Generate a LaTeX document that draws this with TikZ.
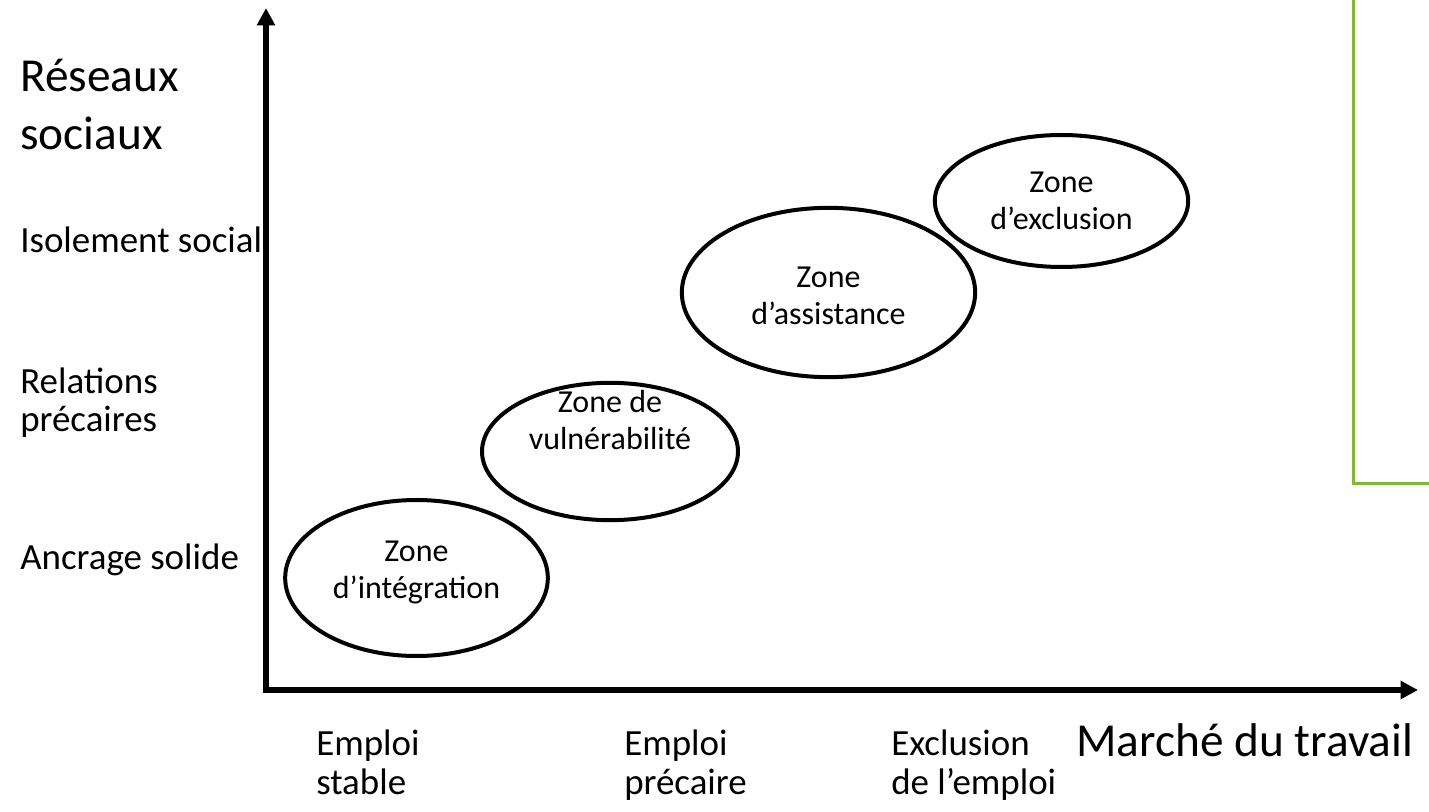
\documentclass[tikz,border=0pt]{standalone}
\usepackage{fontspec}
\setmainfont{Carlito}
\usetikzlibrary{arrows.meta,shapes.geometric}

\definecolor{boxgreen}{RGB}{124,186,52}
\newcommand{\zonefont}{\fontsize{24}{27.8}\selectfont}
\newcommand{\lblfont}{\fontsize{27.7}{29}\selectfont}
\newcommand{\axisfont}{\fontsize{35.5}{43.5}\selectfont}

\begin{document}
\begin{tikzpicture}[%
	x=0.75pt,y=-0.75pt,
	axis/.style={line width=4.5pt,{Triangle[width=13pt,length=13pt]}-{Triangle[width=13pt,length=13pt]}},
	zone/.style={ellipse,draw,line width=3pt,inner sep=0pt},
	zonetxt/.style={align=center,anchor=base,font=\zonefont},
	lbl/.style={align=left,anchor=base west,inner sep=0pt,font=\lblfont}]

	\useasboundingbox (0,0) rectangle (1429,812);

	% cadre vert (coupé par le bord)
	\begin{scope}
		\clip (0,0) rectangle (1429,812);
		\draw[boxgreen,line width=2.4pt] (1353.5,-20) rectangle (1480,483.5);
	\end{scope}

	% axes
	\coordinate (O)  at (266,690);
	\coordinate (YT) at (266,8);
	\coordinate (XT) at (1418,690);
	\draw[axis] (YT) -- (O) -- (XT);

	% zones
	\node[zone,minimum width=197pt,minimum height=117pt]	(INT)	at (416.5,578)	{};
	\node[zone,minimum width=192pt,minimum height=103pt]	(VUL)	at (610,451.5)	{};
	\node[zone,minimum width=220pt,minimum height=127pt]	(ASS)	at (828.5,292.5)	{};
	\node[zone,minimum width=190pt,minimum height=99pt]	(EXC)	at (1061.5,201)	{};

	% (base = ligne du bas)
	\node[zonetxt]	(INTtxt)	at (416.5,599)	{Zone\\d’intégration};
	\node[zonetxt]	(VULtxt)	at (610,450)	{Zone de\\vulnérabilité};
	\node[zonetxt]	(ASStxt)	at (828.5,325)	{Zone\\d’assistance};
	\node[zonetxt]	(EXCtxt)	at (1061.5,230)	{Zone\\d’exclusion};

	% axe vertical
	\node[lbl,font=\axisfont]	(RES)	at (20,150)	{Réseaux\\sociaux};
	\node[lbl]	(ISO)	at (20,253)	{Isolement social};
	\node[lbl]	(REL)	at (20,432)	{Relations\\précaires};
	\node[lbl]	(ANC)	at (20,570)	{Ancrage solide};

	% axe horizontal
	\node[lbl]	(STA)	at (316,794)	{Emploi\\stable};
	\node[lbl]	(PRE)	at (624,794)	{Emploi\\précaire};
	\node[lbl]	(EXL)	at (891,794)	{Exclusion\\de l’emploi};
	\node[lbl,font=\axisfont]	(MAR)	at (1076,757)	{Marché du travail};

\end{tikzpicture}
\end{document}
